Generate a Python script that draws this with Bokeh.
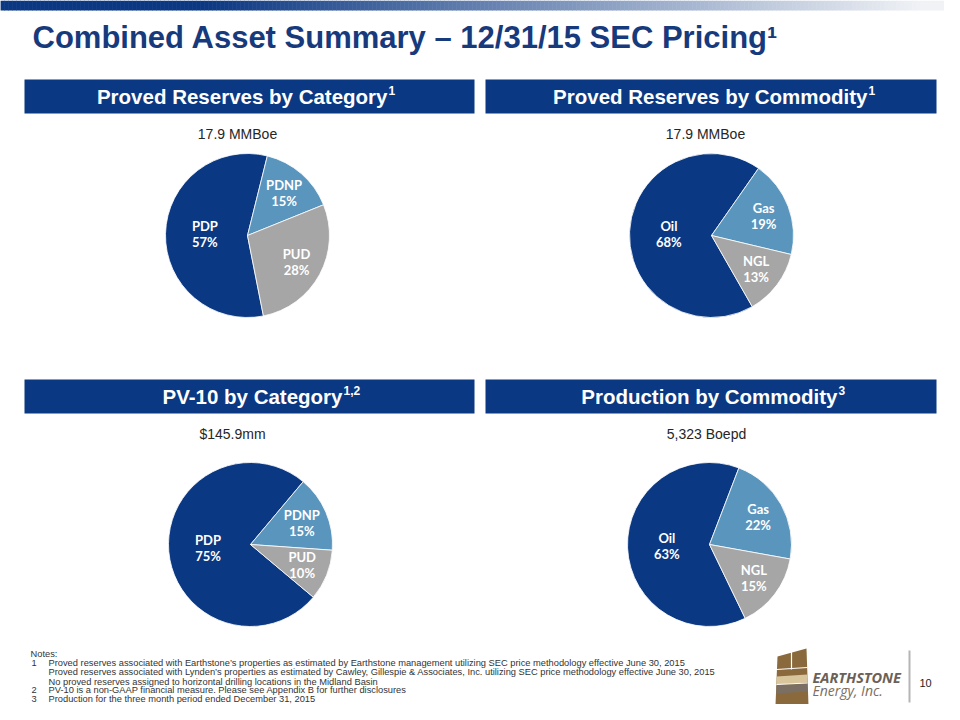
import numpy as np
from bokeh.plotting import figure
from bokeh.models import Range1d
from bokeh.core.properties import value
from bokeh.embed import file_html
from bokeh.resources import INLINE

# ---------------- data ----------------
title_text = "Combined Asset Summary – 12/31/15 SEC Pricing¹"

reserves_cat_labels = ["PDP", "PDNP", "PUD"]
reserves_cat_values = [57, 15, 28]
reserves_com_labels = ["Oil", "Gas", "NGL"]
reserves_com_values = [68, 19, 13]
pv10_cat_labels = ["PDP", "PDNP", "PUD"]
pv10_cat_values = [75, 15, 10]
prod_com_labels = ["Oil", "Gas", "NGL"]
prod_com_values = [63, 22, 15]

panel_titles = ["Proved Reserves by Category", "Proved Reserves by Commodity",
                "PV-10 by Category", "Production by Commodity"]
panel_title_notes = ["1", "1", "1,2", "3"]
panel_totals = ["17.9 MMBoe", "17.9 MMBoe", "$145.9mm", "5,323 Boepd"]

note_numbers = ["1", "", "", "2", "3"]
note_texts = [
    "Proved reserves associated with Earthstone\u2019s properties  as estimated by Earthstone management utilizing SEC price methodology effective June 30, 2015",
    "Proved reserves associated with Lynden\u2019s properties as estimated by Cawley, Gillespie & Associates, Inc. utilizing SEC price methodology effective June 30, 2015",
    "No proved reserves assigned to horizontal  drilling  locations in the Midland  Basin",
    "PV-10 is a non-GAAP  financial measure. Please see Appendix B  for further disclosures",
    "Production  for the three month period  ended December 31, 2015",
]

# ---------------- style ----------------
NAVY = "#0b3882"
LIGHT = "#5a95bd"
GREY = "#a6a6a6"
SLICE_COLORS = [NAVY, LIGHT, GREY]
TITLE_COLOR = "#173a7c"
ARIAL = "Liberation Sans, Arial, sans-serif"
R = 82

W, H = 944, 704
p = figure(width=W, height=H, output_backend="svg", toolbar_location=None,
           x_range=Range1d(0, W), y_range=Range1d(720 - H, 720),
           min_border=0, outline_line_color=None)
p.axis.visible = False
p.grid.visible = False
p.background_fill_color = "white"
p.border_fill_color = "white"


def Y(v):
    return 720 - np.asarray(v, dtype=float)


# top gradient bar
xs = np.arange(0, 960, 4) + 2
c0 = np.array([11, 56, 130])
c1 = np.array([240, 242, 246])
t = np.clip((xs - 200) / 720.0, 0, 1)
cols = ["#%02x%02x%02x" % tuple((c0 + (c1 - c0) * ti).astype(int)) for ti in t]
p.rect(x=xs, y=Y(5), width=4.6, height=10, fill_color=cols, line_color=None)

# title
p.text(x=[32], y=Y([37]), text=[title_text], text_font=value(ARIAL), text_font_style="bold",
       text_font_size="31px", text_color=TITLE_COLOR, text_baseline="middle", text_align="left")

# panel header bars
bar_x0 = [24, 485, 24, 485]
bar_x1 = [474, 936, 474, 936]
bar_y = [96, 96, 396, 396]
bx = [(a + b) / 2 for a, b in zip(bar_x0, bar_x1)]
bw = [b - a for a, b in zip(bar_x0, bar_x1)]
p.rect(x=bx, y=Y(bar_y), width=bw, height=34, fill_color=NAVY, line_color=None)

title_end = [387, 867, 342, 837]
p.text(x=title_end, y=Y(bar_y), text=panel_titles, text_font=value(ARIAL), text_font_style="bold",
       text_font_size="20.5px", text_color="white", text_baseline="middle", text_align="right")
p.text(x=[e + 1 for e in title_end], y=Y([v - 6 for v in bar_y]), text=panel_title_notes,
       text_font=value(ARIAL), text_font_style="bold", text_font_size="12px",
       text_color="white", text_baseline="middle", text_align="left")

# totals
tot_x = [237, 705, 232, 706]
tot_y = [133, 133, 433, 433]
p.text(x=tot_x, y=Y(tot_y), text=panel_totals, text_font=value(ARIAL),
       text_font_size="14px", text_color="#262626", text_baseline="middle", text_align="center")


# pies
def draw_pie(cx, cy, labels, values, first_start_cw):
    vals = np.array(values, dtype=float)
    frac = vals / vals.sum()
    starts = first_start_cw + 360 * np.concatenate([[0], np.cumsum(frac)[:-1]])
    ends = starts + 360 * frac
    p.wedge(x=cx, y=Y(cy), radius=R, start_angle=np.radians(90 - starts),
            end_angle=np.radians(90 - ends), direction="clock",
            fill_color=SLICE_COLORS, line_color="white", line_width=0.8)
    mids = np.radians((starts + ends) / 2)
    fac = np.where(frac > 0.5, 0.52, 0.68)
    lx = cx + fac * R * np.sin(mids)
    ly = cy - fac * R * np.cos(mids)
    txt = [f"{l}\n{int(v)}%" for l, v in zip(labels, values)]
    p.text(x=lx, y=Y(ly), text=txt, text_font=value("Lato"), text_font_style="bold",
           text_font_size="13px", text_color="white", text_align="center",
           text_baseline="middle", text_line_height=1.0)


draw_pie(247, 235, reserves_cat_labels, reserves_cat_values, 168.8)
draw_pie(711, 235, reserves_com_labels, reserves_com_values, 150.2)
draw_pie(250, 544, pv10_cat_labels, pv10_cat_values, 130.0)
draw_pie(709, 544, prod_com_labels, prod_com_values, 154.2)

# notes
note_y = [662.5, 671.8, 681.2, 689.7, 698.8]
p.text(x=[30], y=Y([653]), text=["Notes:"], text_font=value(ARIAL), text_font_size="9.3px",
       text_color="#333333", text_baseline="middle", text_align="left")
p.text(x=[31] * 5, y=Y(note_y), text=note_numbers, text_font=value(ARIAL), text_font_size="9.3px",
       text_color="#333333", text_baseline="middle", text_align="left")
p.text(x=[48] * 5, y=Y(note_y), text=note_texts, text_font=value(ARIAL), text_font_size="9.3px",
       text_color="#333333", text_baseline="middle", text_align="left")

# logo (decoration)
dy = -7
p.patch(x=[777, 806, 808, 775], y=Y(np.array([663, 655, 712, 712]) + dy), fill_color="#8a6a3c", line_color=None)
p.patch(x=[776, 807, 807, 776], y=Y(np.array([683, 681, 689, 691]) + dy), fill_color="#d9c59c", line_color=None)
p.patch(x=[776, 807, 807, 776], y=Y(np.array([692, 690, 698, 700]) + dy), fill_color="#7b6f64", line_color=None)
p.line(x=[791, 791], y=Y(np.array([658, 676]) + dy), line_color="white", line_width=1.2)
p.line(x=[776, 807], y=Y(np.array([676, 674]) + dy), line_color="white", line_width=1.2)
p.line(x=[776, 807], y=Y(np.array([691, 689.5]) + dy), line_color="white", line_width=1)
p.text(x=[812], y=Y([684 + dy]), text=["EARTHSTONE"], text_font=value("Open Sans"), text_font_style="bold italic",
       text_font_size="14.5px", text_color="#6b6157", text_baseline="middle", text_align="left")
p.text(x=[812], y=Y([697 + dy]), text=["Energy, Inc."], text_font=value("Open Sans"), text_font_style="italic",
       text_font_size="14px", text_color="#7a6e63", text_baseline="middle", text_align="left")
p.line(x=[909, 909], y=Y(np.array([657, 709]) + dy), line_color="#b5b5b5", line_width=2)
p.text(x=[919], y=Y([689 + dy]), text=["10"], text_font=value(ARIAL), text_font_size="11px",
       text_color="#222222", text_baseline="middle", text_align="left")

open("out.html", "w").write(file_html(p, INLINE))
